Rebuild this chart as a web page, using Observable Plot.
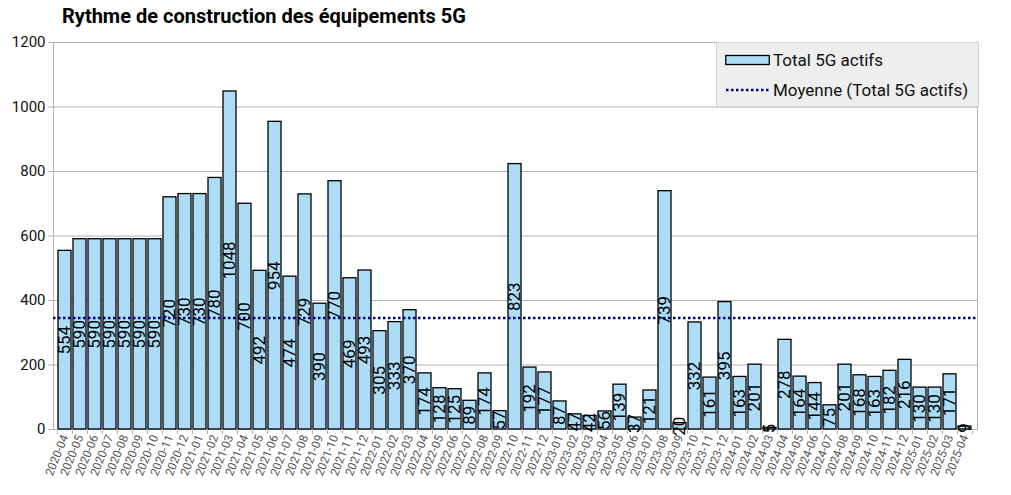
<!DOCTYPE html>
<html>
<head>
<meta charset="utf-8">
<script src="https://cdn.jsdelivr.net/npm/d3@7"></script>
<script src="https://cdn.jsdelivr.net/npm/@observablehq/plot@0.6"></script>
<style>
  html, body { margin: 0; padding: 0; background: white; }
  #wrap { position: relative; width: 1011px; height: 495px; font-family: Roboto, sans-serif; }
  #title { height: 32px; box-sizing: border-box; padding-left: 62px; padding-top: 5px; font-size: 20px; font-weight: bold; color: #000; line-height: 22px; }
  #legend { position: absolute; left: 716px; top: 42px; width: 263px; height: 65px; box-sizing: border-box;
            background: #eeeeee; border: 1px dotted #b8b8b8; font-size: 17px; color: #111; }
  .row { position: absolute; left: 8px; height: 20px; display: flex; align-items: center; }
  .row svg { margin-right: 3px; }
</style>
</head>
<body>
<div id="wrap">
  <div id="title">Rythme de construction des équipements 5G</div>
  <div id="chart"></div>
  <div id="legend">
    <div class="row" style="top:7px;"><svg width="45" height="12"><rect x="0.75" y="1.5" width="43.5" height="9" fill="#acdcf6" stroke="black" stroke-width="1.3"></rect></svg><span>Total 5G actifs</span></div>
    <div class="row" style="top:37px;"><svg width="45" height="12"><line x1="1" x2="44" y1="6" y2="6" stroke="#000080" stroke-width="2.5" stroke-dasharray="2.5,2.5"></line></svg><span>Moyenne (Total 5G actifs)</span></div>
  </div>
</div>
<script>
const months = [
  "2020-04","2020-05","2020-06","2020-07","2020-08","2020-09","2020-10","2020-11","2020-12",
  "2021-01","2021-02","2021-03","2021-04","2021-05","2021-06","2021-07","2021-08","2021-09","2021-10","2021-11","2021-12",
  "2022-01","2022-02","2022-03","2022-04","2022-05","2022-06","2022-07","2022-08","2022-09","2022-10","2022-11","2022-12",
  "2023-01","2023-02","2023-03","2023-04","2023-05","2023-06","2023-07","2023-08","2023-09","2023-10","2023-11","2023-12",
  "2024-01","2024-02","2024-03","2024-04","2024-05","2024-06","2024-07","2024-08","2024-09","2024-10","2024-11","2024-12",
  "2025-01","2025-02","2025-03","2025-04"
];
const totals = [
  554,590,590,590,590,590,590,720,730,
  730,780,1048,700,492,954,474,729,390,770,469,493,
  305,333,370,174,128,125,89,174,57,823,192,177,
  87,47,42,56,139,37,121,739,20,332,161,395,
  163,201,5,278,164,144,75,201,168,163,182,216,
  130,130,171,9
];
const yTicks = [0,200,400,600,800,1000,1200];

const data = months.map((m, i) => ({month: m, value: totals[i]}));
const mean = d3.mean(totals);

const W = 1011, ML = 53, MR = 34;
const step = (W - ML - MR) / months.length;

const chart = Plot.plot({
  width: W, height: 463,
  marginTop: 10, marginBottom: 66, marginLeft: ML, marginRight: MR,
  style: {fontFamily: "Roboto, sans-serif", background: "transparent", overflow: "visible"},
  x: {type: "band", domain: months, paddingInner: 0.12, paddingOuter: 0.06, axis: null, label: null},
  y: {domain: [0, 1200], axis: null, label: null},
  marks: [
    Plot.gridY(yTicks, {stroke: "#b3b3b3", strokeOpacity: 1}),
    Plot.frame({stroke: "#b3b3b3"}),
    Plot.barY(data, {x: "month", y: "value", fill: "#acdcf6", stroke: "black", strokeWidth: 1.3}),
    Plot.ruleY([mean], {stroke: "#000080", strokeWidth: 2.5, strokeDasharray: "2.5,2.5"}),
    Plot.text(data, {x: "month", y: d => d.value / 2, text: d => String(d.value), rotate: -90, fontSize: 17, fill: "black"}),
    Plot.axisY(yTicks, {label: null, tickSize: 5, stroke: "#b3b3b3", fill: "#111", fontSize: 15, tickPadding: 3, tickFormat: d => String(d)}),
    Plot.axisX(months, {label: null, tickSize: 5, stroke: "#b3b3b3", tickFormat: () => "", dx: -step / 2}),
    Plot.axisX([months[months.length - 1]], {label: null, tickSize: 5, stroke: "#b3b3b3", tickFormat: () => "", dx: step / 2}),
    Plot.axisX(months, {label: null, tickSize: 0, tickRotate: -68, tickPadding: 6, fontSize: 11.8, fill: "#555"})
  ]
});
document.getElementById("chart").appendChild(chart);
</script>
</body>
</html>
